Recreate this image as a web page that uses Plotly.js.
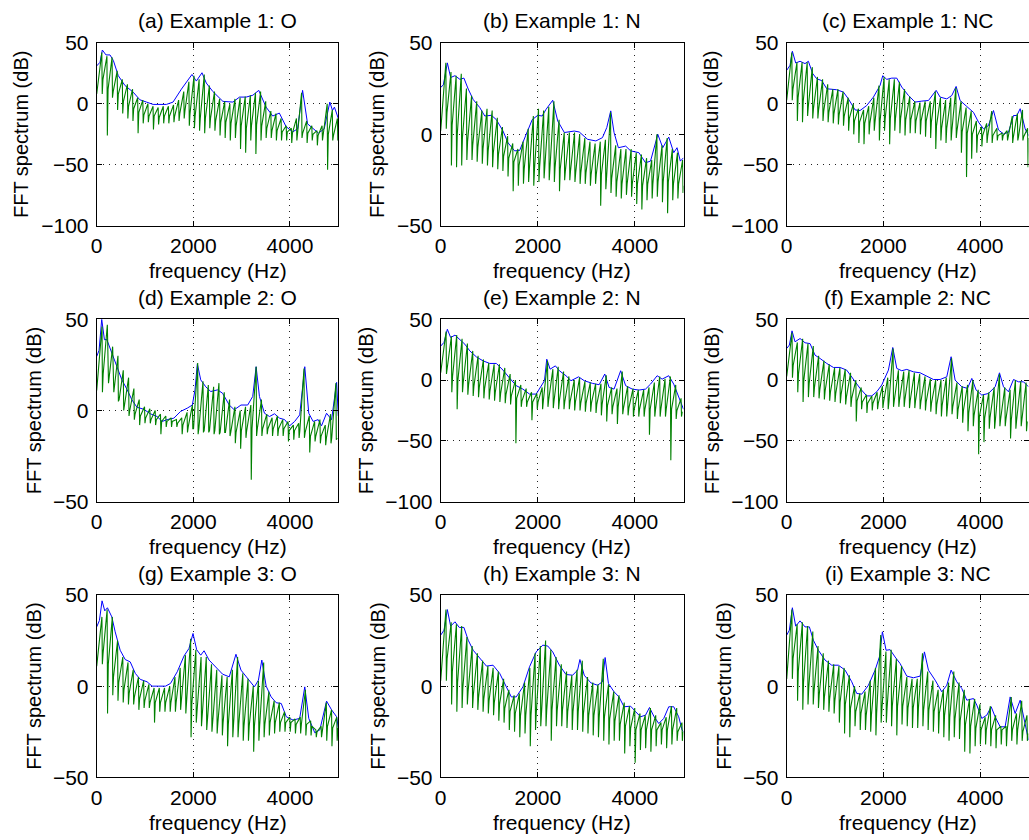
<!DOCTYPE html>
<html>
<head>
<meta charset="utf-8">
<script src="https://cdn.plot.ly/plotly-3.0.1.min.js"></script>
<style>html,body{margin:0;padding:0;background:#fff;}#chart{width:1029px;height:840px;}</style>
</head>
<body>
<div id="chart"></div>
<script>
// ---------------- DATA ----------------
const panelTitles = ["(a) Example 1: O","(b) Example 1: N","(c) Example 1: NC",
                     "(d) Example 2: O","(e) Example 2: N","(f) Example 2: NC",
                     "(g) Example 3: O","(h) Example 3: N","(i) Example 3: NC"];
const xTicks = [0, 2000, 4000];
const yRanges = [[-100,50],[-50,50],[-100,50],[-50,50],[-100,50],[-100,50],[-50,50],[-50,50],[-50,50]];
// fundamental frequency (Hz) of each example: harmonics spacing of the FFT spectrum
const f0 = [106, 110, 108];
// FFT spectrum value at 0 Hz
const startDb = [8, 2, 3, 11, 6, 3, 11, 3, 4];

// spectral envelope (blue)
const envF_a = [0,69,117,192,275,344,447,584,756,893,1031,1168,1443,1580,1753,1972,2062,2179,2268,2405,2612,2818,2955,3093,3230,3354,3505,3643,3780,3918,4055,4158,4261,4364,4591,4708,4825,4880,4920,4983,5000];
const envDb_a = [31,34,44,40,40,35.5,23,15,9.5,3.3,1.4,-0.5,-0.5,1.4,12,24,18.6,25.4,17,10,2,1.4,5.5,5.5,7,11,-2.7,-10,-7.6,-18.6,-23,-20.5,11,-16.4,-24,-20.5,1.4,-5.5,-2.7,-11.5,-12];
const envF_b = [0,55,137,205,294,396,478,567,669,805,908,1044,1147,1283,1386,1522,1625,1761,1884,2000,2089,2171,2307,2410,2546,2751,2853,3024,3195,3331,3420,3502,3570,3659,3809,3911,4082,4218,4321,4471,4573,4696,4799,4867,4935,5000];
const envDb_b = [25.6,27,39,31,32,30,30.7,24.7,19,14.6,10,10.4,8,1.8,-4.6,-9,-8.8,0,8,10.4,10,13.7,18.6,7.3,1,1.8,1.3,-2.7,-3.6,-1.8,3.7,12.8,1,-7.3,-6.4,-9,-10,-15.5,-14.6,0,-7.3,-1.5,-10,-7.3,-14.6,-12.8];
const envF_c = [0,69,117,186,276,379,448,538,621,724,828,1034,1172,1276,1414,1517,1655,1793,1931,1986,2069,2172,2276,2379,2517,2655,2793,2931,3090,3172,3310,3414,3503,3586,3724,3862,3966,4069,4172,4276,4379,4483,4586,4690,4759,4828,4931,5000];
const envDb_c = [27.4,31.5,43,33.4,34.8,32.9,34.8,24.7,20.5,19,12.3,11.5,9.6,4,-5,-5.5,-1.4,5.5,15,23,20,21,21,13.7,6.8,1.4,2.2,2.7,11,5.5,4,6.8,14.2,2.7,-2.2,-7,-15,-20.5,-17.8,-5.5,-21.4,-24.7,-23.3,-9.6,-9.6,-4,-20.5,-26];
const envF_d = [0,49,104,160,208,278,347,417,521,625,729,833,972,1111,1250,1354,1458,1597,1736,1875,1979,2035,2083,2153,2257,2361,2500,2604,2743,2847,2986,3125,3229,3299,3368,3472,3576,3680,3785,3889,3993,4097,4201,4306,4389,4479,4583,4653,4757,4861,4965,5000];
const envDb_d = [29.6,33,50,38.8,39,34,28.7,24,16.8,11.7,5.8,1.8,0.7,-1.8,-3.3,-6,-5,-4.2,-0.5,1.3,3,11.3,25.6,16.8,13,10.4,11.3,9.5,3,0.4,3,3,7.7,24,7.7,-1.5,-3.3,-1.8,-4.2,-5,-8.4,-6,-2.4,24,-1.5,-6,-5,-8.4,-1.5,-5,15.4,-3];
const envF_e = [0,68,137,205,294,396,498,600,737,874,1010,1147,1283,1420,1556,1693,1829,1966,2068,2137,2184,2253,2362,2444,2580,2683,2840,2956,3126,3263,3379,3468,3570,3706,3809,3945,4082,4218,4321,4457,4560,4696,4799,4901,4970,5000];
const envDb_e = [28,31,41.8,35,37,33.6,29.5,24,19,15.8,13.7,13.7,8.2,1.6,-4.6,-7.4,-11.5,-11.5,-4.6,-0.5,17.2,9,11.7,7.7,3.6,-0.5,2.7,-0.5,-2.7,-3.8,5,-6,-7.4,7.7,-4.6,-7.4,-8.2,-7.4,-3.3,3.6,0.8,3.6,-3.3,-14,-22,-24];
const envF_f = [0,55,110,172,276,379,483,586,690,828,966,1103,1241,1379,1517,1655,1759,1862,1966,2103,2193,2276,2379,2483,2621,2759,2897,3034,3172,3310,3400,3483,3621,3738,3828,3917,4034,4172,4310,4400,4483,4586,4690,4793,4897,5000];
const envDb_f = [26,28.8,40.5,31.5,34.2,30.7,30,20.5,17.8,13.7,10.4,10.4,8.2,0.5,-6.8,-13,-13,-9.6,-4,8.2,26.8,9.6,7.7,8.8,6.8,6,3.3,0.5,0.5,2.7,19.2,0,-5.5,-6.8,1.4,-8.2,-12.3,-11,-5.5,6,-5.5,-9.6,0.5,-1.4,-1.4,-5.5];
const envF_g = [0,56,111,167,222,313,382,486,590,694,799,903,1042,1146,1285,1424,1528,1667,1806,1910,1993,2069,2153,2222,2326,2465,2604,2743,2882,2986,3125,3264,3347,3417,3507,3611,3715,3819,3924,4063,4201,4306,4389,4514,4618,4757,4861,4965,5000];
const envDb_g = [32.5,36,46.8,41.3,43,38,29.8,19.7,14.6,13.3,7,3.7,2.4,0,0,0,1.5,7.9,16.5,20.7,28.9,20,17,19.4,14.3,10.2,6.6,5.1,17.5,8.8,4.2,-0.4,3.3,14.3,0,-5.9,-9.1,-9.5,-16.8,-18.6,-17.7,-0.4,-17.7,-25.6,-24,-8.2,-13,-16.8,-23];
const envF_h = [0,68,137,205,294,382,478,567,669,805,942,1078,1215,1352,1454,1556,1693,1829,1966,2102,2205,2307,2444,2580,2717,2819,2867,2956,3092,3229,3331,3386,3454,3570,3672,3775,3911,4014,4116,4218,4300,4389,4491,4594,4696,4799,4901,4970,5000];
const envDb_h = [28,30.7,42,32.9,35.3,32.2,32.2,25.2,19.7,15.2,11,11.5,7,-0.4,-5.9,-5.9,-0.4,10.6,18.8,22.5,22,18.8,11.5,6.4,6,8.8,14.6,6,1.8,0.5,2.4,15.7,1.5,-3.1,-5.9,-11.3,-11,-14,-16.8,-15.9,-11.7,-16.5,-20.5,-17.7,-11.3,-11.3,-16.8,-24,-25];
const envF_i = [0,55,117,186,276,379,469,552,655,793,931,1069,1207,1345,1448,1552,1690,1828,1917,1979,2055,2138,2241,2345,2483,2621,2759,2848,2931,3069,3207,3310,3400,3517,3621,3724,3862,3931,4034,4138,4228,4310,4414,4517,4621,4724,4828,4897,5000];
const envDb_i = [28,30.7,43,32.9,35.8,32.5,32.5,25.2,19.7,14.3,11.5,11.5,8.8,2.4,-4,-4.4,0.5,8.8,16,29.8,19.7,20,16,12.4,5.5,4.6,5.5,18.8,8.8,3.3,-3.1,0.5,8.8,2.4,-1.3,-7.7,-6.8,-10.4,-17.7,-15.9,-11.3,-16.8,-22.3,-22.3,-5.9,-15,-7.7,-15.9,-29.6];

// FFT spectrum (green): value at each harmonic peak, at the dip right after it, and the level between harmonics
const peak_a = [42,39,38,27,20,16,12,5,3,0,-2,-3,-2,-2,-1,3,10,18,23,20,24,15,10,4,2,0,4,5,6,7,9,10,2,-6,-8,-12,-18,-20,-12,9,-14,-18,-22,-18,0,-5,-12];
const base_a = [20,12,10,8,2,-2,-4,-7,-9,-10,-10,-11,-10,-10,-10,-8,-6,-8,-10,-12,-12,-12,-14,-15,-15,-16,-18,-18,-20,-18,-17,-18,-20,-22,-22,-23,-23,-24,-24,-24,-24,-25,-26,-26,-25,-26,-26];
const dip_a  = [8,-26,5,-5,-8,-12,-14,-24,-16,-15,-21,-17,-16,-16,-15,-14,-12,-18,-20,-22,-24,-20,-22,-26,-28,-30,-28,-37,-40,-30,-41,-30,-28,-28,-30,-30,-30,-32,-30,-28,-32,-30,-34,-30,-54,-30,-30];
const peak_b = [39,34,32,33,25,21,18,13,14,13,9,4,-1,-5,-8,-4,3,10,14,13,15,18,8,1,1,1,0,-2,-4,-5,-4,-3,12,-6,-8,-8,-8,-10,-11,-13,-14,0,-6,-2,-8,-10,-14];
const base_b = [12,5,0,-2,-4,-6,-7,-8,-9,-10,-11,-12,-13,-15,-17,-19,-19,-19,-18,-18,-18,-18,-19,-20,-20,-21,-21,-21,-22,-22,-22,-23,-24,-26,-27,-27,-27,-27,-28,-27,-27,-26,-26,-26,-27,-27,-28];
const dip_b  = [3,-17,-18,-17,-14,-14,-15,-16,-17,-18,-19,-20,-23,-31,-28,-27,-26,-28,-26,-24,-25,-26,-31,-25,-25,-26,-27,-27,-28,-27,-39,-30,-32,-34,-35,-33,-34,-38,-41,-36,-35,-34,-37,-43,-36,-35,-32];
const peak_c = [42,34,34,34,30,22,20,16,12,12,10,5,0,-4,-5,-2,5,15,22,20,20,18,12,6,2,1,2,2,10,5,3,5,13,2,-3,-6,-14,-19,-16,-6,-20,-24,-22,-10,-8,-5,-20];
const base_c = [12,5,2,-2,-4,-5,-6,-7,-8,-9,-10,-12,-14,-15,-16,-16,-15,-14,-12,-12,-12,-12,-13,-13,-14,-14,-14,-15,-18,-20,-20,-22,-22,-23,-24,-25,-26,-26,-26,-26,-26,-26,-27,-27,-27,-27,-28];
const dip_c  = [3,-14,-15,-10,-12,-12,-14,-15,-16,-17,-18,-22,-25,-32,-33,-25,-22,-30,-22,-33,-22,-24,-26,-24,-24,-25,-27,-28,-37,-30,-32,-30,-28,-40,-60,-45,-40,-35,-32,-32,-30,-30,-30,-32,-30,-30,-52];
const peak_d = [46,47,35,30,22,18,12,6,2,1,0,-2,-3,-4,-5,-4,-1,3,26,16,14,13,15,10,6,2,0,2,3,24,6,-2,-4,-3,-5,-6,-8,-7,23,-3,-6,-5,-8,-2,15];
const base_d = [20,15,10,6,3,0,-2,-3,-4,-5,-5,-6,-6,-6,-7,-8,-9,-10,-10,-11,-11,-11,-12,-12,-12,-12,-11,-11,-10,-10,-10,-10,-10,-10,-10,-11,-11,-11,-12,-14,-14,-14,-15,-15,-15];
const dip_d  = [10,25,12,5,0,-3,-5,-8,-7,-7,-8,-13,-9,-9,-9,-13,-12,-10,-13,-12,-12,-13,-13,-12,-14,-18,-21,-15,-38,-14,-14,-13,-14,-14,-14,-17,-16,-15,-15,-23,-17,-18,-19,-18,-16];
const peak_e = [40,36,37,34,30,24,20,17,14,13,13,10,5,0,-4,-7,-10,-11,-6,16,9,11,7,3,0,2,-1,-2,-3,-3,4,-6,-7,7,-5,-7,-8,-8,-6,-2,3,1,3,-4,-15];
const base_e = [10,3,0,-2,-4,-5,-6,-7,-9,-10,-11,-12,-13,-15,-17,-18,-18,-18,-17,-16,-17,-17,-18,-18,-18,-19,-19,-19,-20,-20,-21,-22,-22,-23,-23,-24,-24,-24,-24,-24,-24,-24,-24,-25,-26];
const dip_e  = [5,-10,-24,-10,-12,-13,-14,-15,-16,-17,-18,-19,-20,-52,-22,-22,-33,-24,-24,-22,-23,-24,-24,-24,-25,-25,-26,-26,-27,-29,-34,-28,-36,-28,-29,-30,-30,-30,-45,-30,-30,-30,-66,-32,-30];
const peak_f = [39,31,34,30,28,20,16,13,10,10,9,6,0,-6,-12,-13,-10,-5,2,26,8,7,8,6,5,3,1,0,0,2,18,-2,-5,-4,0,-8,-12,-10,-6,5,-6,-8,0,-1,-2];
const base_f = [12,5,0,-3,-6,-8,-9,-10,-11,-12,-14,-15,-17,-18,-19,-19,-19,-18,-18,-17,-16,-16,-17,-17,-18,-18,-19,-20,-21,-22,-22,-24,-25,-27,-29,-30,-31,-31,-32,-32,-32,-33,-33,-33,-34];
const dip_f  = [2,-10,-18,-14,-14,-15,-16,-17,-18,-19,-20,-22,-34,-24,-27,-25,-24,-23,-24,-22,-22,-22,-23,-23,-24,-25,-26,-28,-30,-30,-28,-32,-35,-42,-38,-61,-51,-40,-40,-38,-38,-48,-40,-38,-42];
const peak_g = [38,42,38,25,16,13,9,5,3,1,-1,-1,-1,0,5,10,17,26,20,16,16,12,9,6,5,9,16,7,4,0,3,13,-3,-8,-9,-14,-17,-18,-17,-2,-19,-24,-22,-9,-13,-17];
const base_g = [18,12,5,2,-2,-4,-6,-7,-8,-9,-9,-9,-9,-9,-9,-8,-8,-10,-14,-16,-18,-19,-20,-20,-21,-21,-21,-22,-22,-22,-22,-21,-20,-20,-20,-20,-20,-21,-21,-21,-22,-25,-25,-22,-23,-23];
const dip_g  = [12,-15,-5,-8,-9,-10,-10,-13,-12,-12,-20,-14,-14,-14,-14,-13,-15,-28,-20,-22,-24,-25,-26,-27,-33,-28,-28,-30,-30,-36,-30,-28,-27,-26,-25,-25,-25,-26,-26,-27,-27,-28,-28,-30,-33,-30];
const peak_h = [42,35,34,33,27,22,18,14,11,10,8,4,-2,-5,-4,2,10,18,22,25,20,16,12,8,6,9,14,5,2,1,15,1,-3,-5,-9,-11,-12,-15,-16,-12,-16,-20,-17,-11,-12,-20];
const base_h = [15,8,2,-1,-3,-5,-6,-7,-8,-9,-10,-12,-14,-15,-16,-16,-16,-15,-14,-13,-13,-13,-13,-14,-14,-14,-15,-16,-16,-17,-17,-18,-19,-21,-22,-23,-24,-24,-24,-24,-24,-24,-24,-24,-25,-25];
const dip_h  = [3,-10,-14,-12,-10,-12,-13,-14,-15,-16,-19,-20,-24,-25,-28,-26,-33,-24,-22,-22,-30,-22,-22,-23,-24,-24,-25,-26,-27,-28,-30,-32,-30,-30,-37,-33,-42,-35,-34,-36,-33,-32,-34,-32,-30,-30];
const peak_i = [42,34,35,33,30,22,18,14,12,11,10,6,0,-4,-3,3,10,28,19,20,15,11,5,4,4,18,8,3,-2,-2,2,8,2,-2,-7,-7,-10,-17,-11,-16,-22,-22,-6,-15,-8,-16];
const base_i = [15,8,2,-1,-3,-5,-6,-7,-8,-9,-10,-12,-14,-15,-16,-16,-15,-13,-12,-11,-11,-11,-12,-12,-12,-13,-13,-14,-15,-16,-17,-18,-19,-21,-22,-23,-24,-24,-24,-24,-24,-24,-24,-24,-25,-26];
const dip_i  = [4,-8,-13,-10,-10,-12,-13,-14,-15,-20,-26,-28,-22,-24,-24,-25,-27,-20,-20,-22,-27,-21,-22,-23,-23,-22,-24,-25,-26,-28,-30,-28,-29,-36,-37,-33,-32,-32,-33,-34,-32,-33,-30,-32,-30,-30];

// ---------------- BUILD ----------------
const envF = [envF_a,envF_b,envF_c,envF_d,envF_e,envF_f,envF_g,envF_h,envF_i];
const envDb = [envDb_a,envDb_b,envDb_c,envDb_d,envDb_e,envDb_f,envDb_g,envDb_h,envDb_i];
const peaks = [peak_a,peak_b,peak_c,peak_d,peak_e,peak_f,peak_g,peak_h,peak_i];
const bases = [base_a,base_b,base_c,base_d,base_e,base_f,base_g,base_h,base_i];
const dips  = [dip_a,dip_b,dip_c,dip_d,dip_e,dip_f,dip_g,dip_h,dip_i];

const W = 1029, H = 840;
const colL = [96.7, 440.7, 786.7], colR = [338.3, 683.5, 1028.5];
const rowT = [42.7, 319.3, 595], rowB = [226, 501.7, 777.3];
const FONT = '"Liberation Sans", Arial, Helvetica, sans-serif';
const FS = 21;

const traces = [];
const layout = {
  width: W, height: H,
  margin: {l:0, r:0, t:0, b:0},
  paper_bgcolor: '#fff', plot_bgcolor: '#fff',
  showlegend: false,
  font: {family: FONT, size: FS, color: '#000'},
  annotations: []
};

for (let p = 0; p < 9; p++) {
  const r = Math.floor(p / 3), c = p % 3;
  const ex = r; // example index = row
  const n = p + 1;
  const xa = n === 1 ? 'x' : 'x' + n, ya = n === 1 ? 'y' : 'y' + n;
  const xkey = n === 1 ? 'xaxis' : 'xaxis' + n, ykey = n === 1 ? 'yaxis' : 'yaxis' + n;

  // blue envelope
  traces.push({type:'scatter', mode:'lines', x: envF[p], y: envDb[p], xaxis: xa, yaxis: ya,
    line:{color:'#0000ff', width:1}, hoverinfo:'skip'});

  // green FFT spectrum
  const F = f0[ex];
  const gx = [0], gy = [startDb[p]];
  for (let k = 0; k < peaks[p].length; k++) {
    const fk = (k + 1) * F;
    gx.push(fk);            gy.push(peaks[p][k]);
    gx.push(fk + 0.08 * F); gy.push(dips[p][k]);
    gx.push(fk + 0.22 * F); gy.push(bases[p][k]);
  }
  traces.push({type:'scatter', mode:'lines', x: gx, y: gy, xaxis: xa, yaxis: ya,
    line:{color:'#008000', width:1.1}, hoverinfo:'skip'});

  const yr = yRanges[p];
  const yt = [];
  for (let v = yr[0]; v <= yr[1]; v += 50) yt.push(v);

  const common = {
    showline:true, linecolor:'#000', linewidth:1, mirror:'ticks',
    ticks:'inside', ticklen:5, tickcolor:'#000', tickwidth:1,
    showgrid:true, gridcolor:'#222', gridwidth:1, griddash:'1px,5px',
    zeroline:false, fixedrange:true,
    tickfont:{family:FONT, size:FS, color:'#000'}
  };
  layout[xkey] = Object.assign({}, common, {
    domain:[colL[c]/W, colR[c]/W], range:[0,5000], anchor: ya,
    tickmode:'array', tickvals: xTicks, ticklabelstandoff: 1
  });
  layout[ykey] = Object.assign({}, common, {
    domain:[1 - rowB[r]/H, 1 - rowT[r]/H], range: yr, anchor: xa,
    tickmode:'array', tickvals: yt, ticklabelstandoff: 3
  });

  const cx = (colL[c] + colR[c]) / 2;
  layout.annotations.push({text: panelTitles[p], xref:'paper', yref:'paper',
    x: cx / W, y: 1 - (rowT[r] - 22) / H, xanchor:'center', yanchor:'middle', showarrow:false,
    font:{family:FONT, size:FS, color:'#000'}});
  layout.annotations.push({text: 'frequency (Hz)', xref:'paper', yref:'paper',
    x: cx / W, y: 1 - (rowB[r] + 45) / H, xanchor:'center', yanchor:'middle', showarrow:false,
    font:{family:FONT, size:FS, color:'#000'}});
  const off = yr[0] === -100 ? 75 : 63;
  layout.annotations.push({text: 'FFT spectrum (dB)', xref:'paper', yref:'paper',
    x: (colL[c] - off) / W, y: 1 - (rowT[r] + rowB[r]) / 2 / H, xanchor:'center', yanchor:'middle',
    textangle:-90, showarrow:false, font:{family:FONT, size:20, color:'#000'}});
}

Plotly.newPlot('chart', traces, layout, {staticPlot:true, displayModeBar:false});
</script>
</body>
</html>
